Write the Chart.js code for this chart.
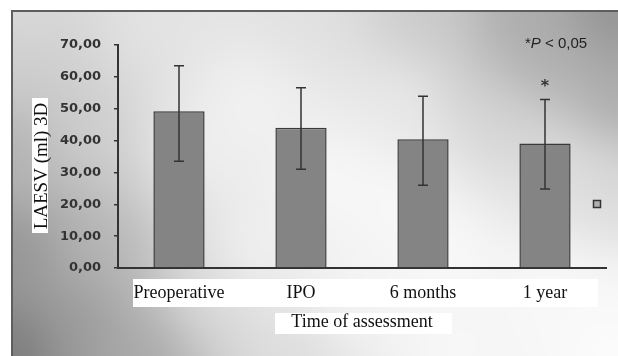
<!DOCTYPE html>
<html><head><meta charset="utf-8">
<script src="https://cdn.jsdelivr.net/npm/chart.js@4.4.1/dist/chart.umd.min.js"></script>
<style>html,body{margin:0;padding:0;background:#fff;overflow:hidden}</style>
</head><body>
<canvas id="c" width="618" height="356"></canvas>
<script>
// ---- data ----
const categories = ['Preoperative', 'IPO', '6 months', '1 year'];
const meanValues = [49.2, 44.0, 40.4, 39.1];
const upperValues = [63.5, 56.6, 53.9, 52.9];
const lowerValues = [33.5, 31.0, 26.0, 24.8];
const significant = [false, false, false, true];
const yMin = 0, yMax = 70, yStep = 10;
const yTitle = 'LAESV (ml) 3D';
const xTitle = 'Time of assessment';

// ---- background shading samples (style only) ----
const bgSamples = [
  [14,14,222],[150,20,230],[300,20,225],[420,20,200],[520,20,165],[610,15,132],
  [610,100,158],[610,200,218],[610,300,252],[610,350,255],[450,350,250],[300,350,218],
  [150,350,158],[14,350,108],[14,250,138],[14,150,172],[14,60,205],[330,180,255],
  [450,250,255],[250,100,248],[500,120,215],[100,250,180],[80,130,208],[540,60,168],
  [400,200,255],[550,280,255],[250,250,248],[200,150,245],[400,100,238],[350,300,250],
  [200,300,225],[80,320,150],[560,160,232]
];
let bgCanvas = null;
function buildBg(w, h) {
  const off = document.createElement('canvas'); off.width = w; off.height = h;
  const c = off.getContext('2d'); const img = c.createImageData(w, h);
  for (let y = 0; y < h; y++) for (let x = 0; x < w; x++) {
    let sw = 0, sv = 0;
    for (const s of bgSamples) { const dx = x - s[0], dy = y - s[1]; const wt = 1 / Math.pow(dx*dx + dy*dy + 3000, 1.5); sw += wt; sv += wt * s[2]; }
    const v = sv / sw; const i = (y * w + x) * 4;
    img.data[i] = img.data[i+1] = img.data[i+2] = v; img.data[i+3] = 255;
  }
  c.putImageData(img, 0, 0); return off;
}

const bgPlugin = {
  id: 'bg',
  beforeDraw(chart) {
    const ctx = chart.ctx; const W = chart.width, H = chart.height;
    if (!bgCanvas) bgCanvas = buildBg(W, H);
    ctx.save();
    ctx.fillStyle = '#fff'; ctx.fillRect(0, 0, W, H);
    ctx.beginPath(); ctx.rect(12, 11, W - 12, H - 11); ctx.clip();
    ctx.drawImage(bgCanvas, 0, 0);
    ctx.restore();
    ctx.save();
    ctx.strokeStyle = '#5e5e5e'; ctx.lineWidth = 2;
    ctx.beginPath(); ctx.moveTo(12, H); ctx.lineTo(12, 11); ctx.lineTo(W, 11); ctx.stroke();
    // white label boxes
    ctx.fillStyle = '#fff';
    ctx.fillRect(133, 279, 465, 28);
    ctx.fillRect(275, 313, 177, 21);
    ctx.fillRect(32, 98, 16, 135);
    ctx.restore();
  },
  afterDatasetsDraw(chart) {
    const ctx = chart.ctx; const xs = chart.scales.x, ys = chart.scales.y;
    ctx.save();
    ctx.strokeStyle = '#333'; ctx.lineWidth = 1.5;
    for (let i = 0; i < categories.length; i++) {
      const x = xs.getPixelForValue(i);
      const yh = ys.getPixelForValue(upperValues[i]);
      const yl = ys.getPixelForValue(lowerValues[i]);
      ctx.beginPath();
      ctx.moveTo(x, yh); ctx.lineTo(x, yl);
      ctx.moveTo(x - 5, yh); ctx.lineTo(x + 5, yh);
      ctx.moveTo(x - 5, yl); ctx.lineTo(x + 5, yl);
      ctx.stroke();
      if (significant[i]) {
        ctx.fillStyle = '#333'; ctx.font = 'bold 16px "DejaVu Sans"';
        ctx.textAlign = 'center'; ctx.textBaseline = 'alphabetic';
        ctx.fillText('*', x, yh - 8);
      }
    }
    ctx.restore();
  },
  afterDraw(chart) {
    const ctx = chart.ctx;
    ctx.save();
    // y title
    ctx.translate(41, 166); ctx.rotate(-Math.PI / 2);
    ctx.fillStyle = '#111'; ctx.font = '19px "Liberation Serif"';
    ctx.textAlign = 'center'; ctx.textBaseline = 'middle';
    ctx.fillText(yTitle, 0, 1);
    ctx.restore();
    // significance note
    ctx.save();
    ctx.fillStyle = '#222'; ctx.textBaseline = 'alphabetic'; ctx.textAlign = 'left';
    let x = 525; const y = 48;
    ctx.font = '15px "Liberation Sans"'; ctx.fillText('*', x, y); x += ctx.measureText('*').width;
    ctx.font = 'italic 15px "Liberation Sans"'; ctx.fillText('P', x, y); x += ctx.measureText('P').width;
    ctx.font = '15px "Liberation Sans"'; ctx.fillText(' < 0,05', x, y);
    // legend square
    ctx.fillStyle = '#b0b0b0'; ctx.fillRect(594, 201, 6, 6);
    ctx.strokeStyle = '#333'; ctx.lineWidth = 1.5; ctx.strokeRect(593.5, 200.5, 7, 7);
    ctx.restore();
  }
};

new Chart(document.getElementById('c'), {
  type: 'bar',
  data: {
    labels: categories,
    datasets: [{
      data: meanValues,
      backgroundColor: '#848484',
      borderColor: '#3a3a3a',
      borderWidth: 1.5,
      barPercentage: 0.42,
      categoryPercentage: 1.0
    }]
  },
  options: {
    responsive: false, animation: false, devicePixelRatio: 1,
    layout: { padding: { top: 45, right: 12, left: 0, bottom: 0 } },
    plugins: { legend: { display: false }, tooltip: { enabled: false } },
    scales: {
      x: {
        grid: { display: false, drawTicks: false },
        border: { display: true, color: '#333', width: 2 },
        ticks: { font: { family: 'Liberation Serif', size: 18 }, color: '#111', padding: 14, maxRotation: 0, autoSkip: false },
        title: { display: true, text: xTitle, font: { family: 'Liberation Serif', size: 18 }, color: '#111', padding: { top: 4, bottom: 23 } },
        afterFit(s) { s.height = 88; }
      },
      y: {
        min: yMin, max: yMax,
        ticks: { stepSize: yStep, font: { family: 'DejaVu Sans', size: 13, weight: 'bold' }, color: '#333', padding: 13,
          callback: v => v.toFixed(2).replace('.', ',') },
        grid: { display: true, drawOnChartArea: false, drawTicks: true, tickLength: 4, color: '#333', lineWidth: 1.5 },
        border: { display: true, color: '#333', width: 2 },
        afterFit(s) { s.width = 118; }
      }
    }
  },
  plugins: [bgPlugin]
});
</script>
</body></html>
